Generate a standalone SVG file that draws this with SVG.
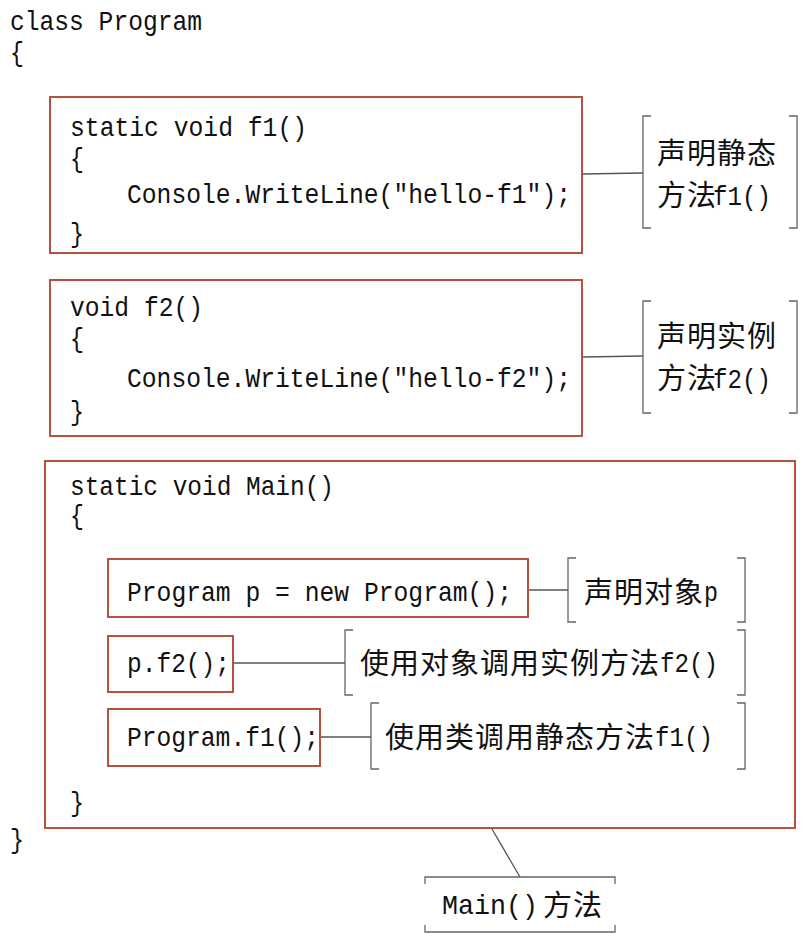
<svg xmlns="http://www.w3.org/2000/svg" width="807" height="941" viewBox="0 0 807 941">
<style>
.code{font-family:"Liberation Mono","DejaVu Sans Mono",monospace;font-size:28px;fill:#111;}
.cjk{font-family:"Noto Sans CJK SC","Noto Sans",sans-serif;font-size:29px;fill:#111;letter-spacing:1px;}
.box{fill:none;stroke:#b5513f;stroke-width:2;}
.conn{fill:none;stroke:#555;stroke-width:1.3;}
.br{fill:none;stroke:#666;stroke-width:1.3;}
</style>
<rect width="807" height="941" fill="#fff"/>

<g id="class-header">
<text class="code" x="10" y="30" textLength="192" lengthAdjust="spacingAndGlyphs">class Program</text>
<text class="code" x="10" y="61" textLength="14" lengthAdjust="spacingAndGlyphs">{</text>
<text class="code" x="10" y="848" textLength="14" lengthAdjust="spacingAndGlyphs">}</text>
</g>

<g id="f1-method">
<rect class="box" x="50" y="97" width="532" height="156"/>
<text class="code" x="70" y="136" textLength="237" lengthAdjust="spacingAndGlyphs">static void f1()</text>
<text class="code" x="70" y="167" textLength="14" lengthAdjust="spacingAndGlyphs">{</text>
<text class="code" x="127" y="203" textLength="444" lengthAdjust="spacingAndGlyphs">Console.WriteLine("hello-f1");</text>
<text class="code" x="70" y="242" textLength="14" lengthAdjust="spacingAndGlyphs">}</text>
</g>

<g id="f1-note">
<path class="br" d="M651,116 H643 V228 H651 M789,116 H797 V228 H789"/>
<text class="cjk" x="657" y="164">声明静态</text>
<text class="cjk" x="657" y="206">方法</text>
<text class="code" x="713" y="205" textLength="58" lengthAdjust="spacingAndGlyphs">f1()</text>
</g>

<g id="f2-method">
<rect class="box" x="50" y="280" width="532" height="156"/>
<text class="code" x="70" y="316" textLength="133" lengthAdjust="spacingAndGlyphs">void f2()</text>
<text class="code" x="70" y="347" textLength="14" lengthAdjust="spacingAndGlyphs">{</text>
<text class="code" x="127" y="387" textLength="444" lengthAdjust="spacingAndGlyphs">Console.WriteLine("hello-f2");</text>
<text class="code" x="70" y="420" textLength="14" lengthAdjust="spacingAndGlyphs">}</text>
</g>

<g id="f2-note">
<path class="br" d="M651,301 H643 V413 H651 M789,301 H797 V413 H789"/>
<text class="cjk" x="657" y="347">声明实例</text>
<text class="cjk" x="657" y="389">方法</text>
<text class="code" x="713" y="388" textLength="58" lengthAdjust="spacingAndGlyphs">f2()</text>
</g>

<g id="main-method">
<rect class="box" x="45" y="461" width="750" height="367"/>
<text class="code" x="70" y="495" textLength="264" lengthAdjust="spacingAndGlyphs">static void Main()</text>
<text class="code" x="70" y="524" textLength="14" lengthAdjust="spacingAndGlyphs">{</text>
<text class="code" x="70" y="811" textLength="14" lengthAdjust="spacingAndGlyphs">}</text>
</g>

<g id="stmt-new">
<rect class="box" x="108" y="559" width="420" height="58"/>
<text class="code" x="127" y="601" textLength="385" lengthAdjust="spacingAndGlyphs">Program p = new Program();</text>
</g>
<g id="note-new">
<path class="br" d="M576,558 H568 V622 H576 M737,558 H745 V622 H737"/>
<text class="cjk" x="584" y="603">声明对象</text>
<text class="code" x="704" y="601" textLength="14" lengthAdjust="spacingAndGlyphs">p</text>
</g>

<g id="stmt-f2">
<rect class="box" x="108" y="636" width="125" height="56"/>
<text class="code" x="127" y="672" textLength="103" lengthAdjust="spacingAndGlyphs">p.f2();</text>
</g>
<g id="note-f2">
<path class="br" d="M353,630 H345 V695 H353 M737,630 H745 V695 H737"/>
<text class="cjk" x="360" y="674">使用对象调用实例方法</text>
<text class="code" x="660" y="672" textLength="58" lengthAdjust="spacingAndGlyphs">f2()</text>
</g>

<g id="stmt-f1">
<rect class="box" x="108" y="709" width="212" height="57"/>
<text class="code" x="127" y="746" textLength="192" lengthAdjust="spacingAndGlyphs">Program.f1();</text>
</g>
<g id="note-f1">
<path class="br" d="M379,703 H371 V769 H379 M737,703 H745 V769 H737"/>
<text class="cjk" x="385" y="748">使用类调用静态方法</text>
<text class="code" x="655" y="746" textLength="58" lengthAdjust="spacingAndGlyphs">f1()</text>
</g>

<g id="note-main">
<path class="br" d="M425,884 V877 H615 V884 M425,925 V932 H615 V925"/>
<text class="code" x="442" y="914" textLength="96" lengthAdjust="spacingAndGlyphs">Main()</text>
<text class="cjk" x="543" y="916">方法</text>
</g>

<g id="connectors">
<line class="conn" x1="583" y1="174" x2="643" y2="173"/>
<line class="conn" x1="583" y1="357" x2="643" y2="356"/>
<line class="conn" x1="529" y1="590" x2="568" y2="590"/>
<line class="conn" x1="234" y1="663" x2="345" y2="663"/>
<line class="conn" x1="321" y1="737" x2="371" y2="737"/>
<line class="conn" x1="492" y1="829" x2="520" y2="877"/>
</g>
</svg>
